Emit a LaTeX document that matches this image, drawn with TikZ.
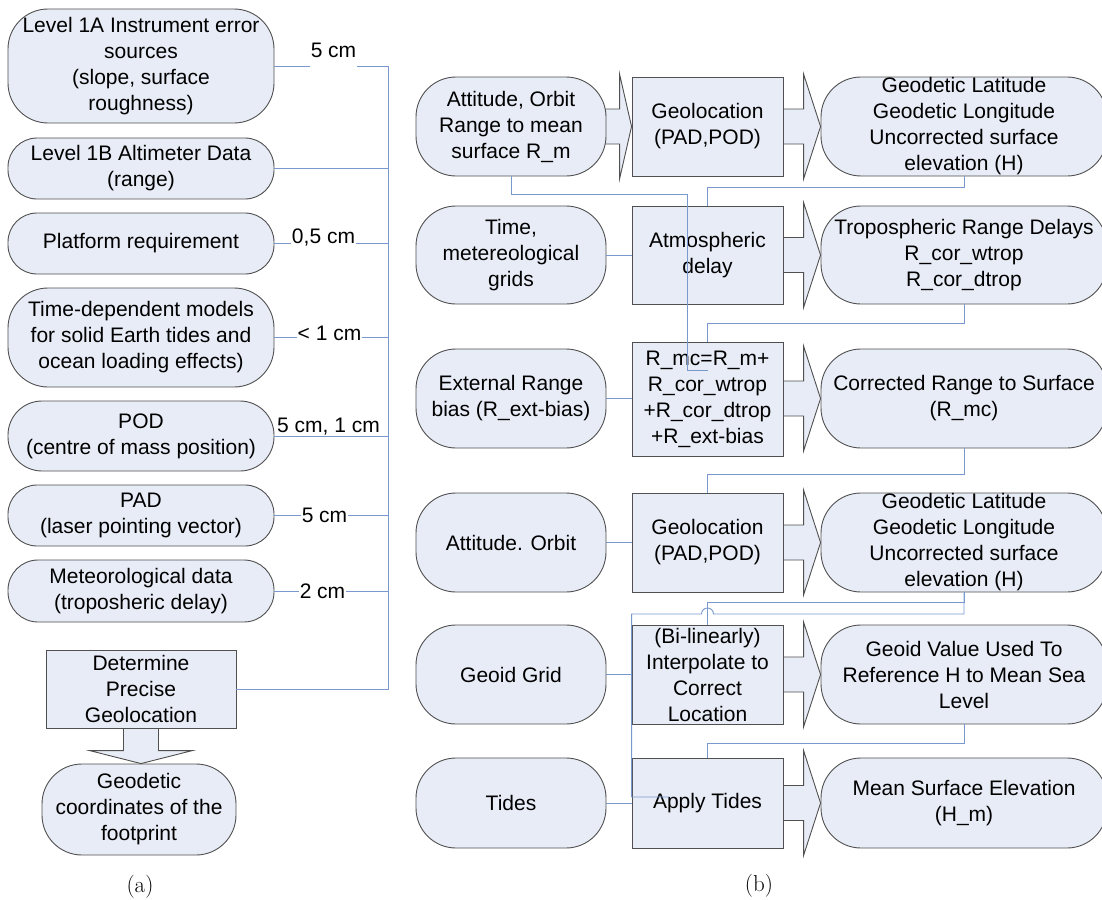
\documentclass[tikz,border=0pt]{standalone}
\usepackage{fontspec}
\newfontfamily\boxfont{Liberation Sans}
\usetikzlibrary{calc,backgrounds}

\definecolor{boxc}{RGB}{232,236,246}
\definecolor{bordc}{RGB}{80,80,80}
\definecolor{connc}{RGB}{120,152,206}

\tikzset{
  txt/.style={font={\boxfont\fontsize{21}{26}\selectfont}},
  rbox/.style={txt, draw=bordc, fill=boxc, line width=0.9pt, rounded corners=#1,
    inner sep=0pt, align=center},
  rbox/.default=40pt,
  sbox/.style={txt, draw=bordc, fill=boxc, line width=0.9pt, inner sep=0pt, align=center},
  conn/.style={draw=connc, line width=0.9pt},
  barrow/.style={draw=bordc, fill=boxc, line width=0.9pt, line join=miter},
  lab/.style={txt, fill=white, inner xsep=0.5pt, inner ysep=1pt, anchor=base},
  capt/.style={font={\fontsize{23}{27}\selectfont}},
}

% horizontal block arrow from #1 to #2, head length #3
\newcommand\blockarrow[3]{%
  \draw[barrow] let \p1=(#1.east), \p2=(#2.west) in
    (\x1-12pt,\y2+17.5pt) -- (\x2-#3,\y2+17.5pt) -- (\x2-#3,\y2+52.5pt) -- (\x2,\y2)
    -- (\x2-#3,\y2-52.5pt) -- (\x2-#3,\y2-17.5pt) -- (\x1-12pt,\y2-17.5pt);}

\begin{document}
\begin{tikzpicture}[x=1pt,y=-1pt]
\useasboundingbox (0,0) rectangle (1102,899);

% ---------------- (a) error budget ----------------
\node[rbox, minimum width=266pt, minimum height=114pt] (b1) at (141,66)
  {Level 1A Instrument error\\sources\\(slope, surface\\roughness)};
\node[rbox=29pt, minimum width=266pt, minimum height=61pt] (b2) at (141,168.5)
  {Level 1B Altimeter Data\\(range)};
\node[rbox=29pt, minimum width=266pt, minimum height=61pt] (b3) at (141,243.5)
  {Platform requirement};
\node[rbox, minimum width=266pt, minimum height=99pt] (b4) at (141,337.5)
  {Time-dependent models\\for solid Earth tides and\\ocean loading effects)};
\node[rbox=34pt, minimum width=266pt, minimum height=70pt] (b5) at (141,436)
  {POD\\(centre of mass position)};
\node[rbox=29pt, minimum width=266pt, minimum height=61pt] (b6) at (141,515.5)
  {PAD\\(laser pointing vector)};
\node[rbox=30pt, minimum width=266pt, minimum height=62pt] (b7) at (141,591)
  {Meteorological data\\(troposheric delay)};
\node[sbox, minimum width=190pt, minimum height=78pt] (det) at (141,689)
  {Determine\\Precise\\Geolocation};
\node[rbox, minimum width=194pt, minimum height=91pt] (fin) at (139,809.5)
  {Geodetic\\coordinates of the\\footprint};

\begin{pgfonlayer}{background}
  \draw[barrow] let \p1=(det.south), \p2=(fin.north) in
    (\x1-17.5pt,\y1+2pt) -- (\x1-17.5pt,\y2+13pt) -- (\x1-51.5pt,\y2+13pt) -- (\x1,\y2)
    -- (\x1+51.5pt,\y2+13pt) -- (\x1+17.5pt,\y2+13pt) -- (\x1+17.5pt,\y1+2pt);
\end{pgfonlayer}

\coordinate (bus) at (388,0);
\draw[conn] (b1.east) -- (b1.east -| bus) -- (det.east -| bus) -- (det.east);
\foreach \b in {b2,b3,b4,b5,b6,b7}
  \draw[conn] (\b.east) -- (\b.east -| bus);

\node[lab, text depth=10pt] (l1) at (333.5,57) {5 cm};
\node[lab] (l3) at (323.5,243) {0,5 cm};
\node[lab] (l4) at (329.5,340) {< 1 cm};
\node[lab] (l5) at (328.5,432) {5 cm, 1 cm};
\node[lab] (l6) at (324.5,522) {5 cm};
\node[lab] (l7) at (322.5,598) {2 cm};

\node[capt] (capa) at (140,887) {(a)};

% ---------------- (b) processing chain ----------------
% row 1
\node[rbox, minimum width=190pt, minimum height=99pt] (a1) at (511,126.5)
  {Attitude, Orbit\\Range to mean\\surface R\_m};
\node[sbox, minimum width=151pt, minimum height=99pt] (g1) at (707.5,126.5)
  {Geolocation\\(PAD,POD)};
\node[rbox, minimum width=286pt, minimum height=99pt] (o1) at (964,126.5)
  {Geodetic Latitude\\Geodetic Longitude\\Uncorrected surface\\elevation (H)};
% row 2
\node[rbox, minimum width=190pt, minimum height=98pt] (a2) at (511,255)
  {Time,\\metereological\\grids};
\node[sbox, minimum width=151pt, minimum height=98pt] (g2) at (707.5,255)
  {Atmospheric\\delay};
\node[rbox, minimum width=286pt, minimum height=98pt] (o2) at (964,255)
  {Tropospheric Range Delays\\R\_cor\_wtrop\\R\_cor\_dtrop};
% row 3
\node[rbox, minimum width=190pt, minimum height=99pt] (a3) at (511,398.5)
  {External Range\\bias (R\_ext-bias)};
\node[sbox, minimum width=151pt, minimum height=114pt] (g3) at (707.5,399)
  {R\_mc=R\_m+\\R\_cor\_wtrop\\+R\_cor\_dtrop\\+R\_ext-bias};
\node[rbox, minimum width=286pt, minimum height=99pt] (o3) at (964,398.5)
  {Corrected Range to Surface\\(R\_mc)};
% row 4
\node[rbox, minimum width=190pt, minimum height=99pt] (a4) at (511,542.5)
  {Attitude. Orbit};
\node[sbox, minimum width=151pt, minimum height=99pt] (g4) at (707.5,542.5)
  {Geolocation\\(PAD,POD)};
\node[rbox, minimum width=286pt, minimum height=99pt] (o4) at (964,542.5)
  {Geodetic Latitude\\Geodetic Longitude\\Uncorrected surface\\elevation (H)};
% row 5
\node[rbox, minimum width=190pt, minimum height=99pt] (a5) at (511,674.5)
  {Geoid Grid};
\node[sbox, minimum width=151pt, minimum height=99pt] (g5) at (707.5,674.5)
  {(Bi-linearly)\\Interpolate to\\Correct\\Location};
\node[rbox, minimum width=286pt, minimum height=99pt] (o5) at (964,674.5)
  {Geoid Value Used To\\Reference H to Mean Sea\\Level};
% row 6
\node[rbox, minimum width=190pt, minimum height=90pt] (a6) at (511,803)
  {Tides};
\node[sbox, minimum width=151pt, minimum height=90pt] (g6) at (707.5,803)
  {Apply Tides};
\node[rbox, minimum width=286pt, minimum height=90pt] (o6) at (964,803)
  {Mean Surface Elevation\\(H\_m)};

\begin{pgfonlayer}{background}
  \blockarrow{a1}{g1}{12pt}
  \blockarrow{g1}{o1}{17pt}
  \blockarrow{g2}{o2}{17pt}
  \blockarrow{g3}{o3}{17pt}
  \blockarrow{g4}{o4}{17pt}
  \blockarrow{g5}{o5}{17pt}
  \blockarrow{g6}{o6}{17pt}
\end{pgfonlayer}

% inputs into the processing blocks
\draw[conn] (a2.east) -- (g2.west);
\draw[conn] (a3.east) -- (a3.east -| g3.west);
\draw[conn] (a4.east) -- (g4.west);
\draw[conn] (a5.east) -- (g5.west);
\draw[conn] (a6.east) -- (g6.west);

% R_m carried down to the range correction
\coordinate (k1) at (687,194);
\coordinate (k2) at (707.5,370);
\draw[conn] (a1.south) |- (k1) |- (k2);

% outputs feeding the next stage
\draw[conn] (o1.south) -- ++(0,11) -| (g2.north);
\draw[conn] (o2.south) -- ++(0,19) -| (g3.north);
\draw[conn] (o3.south) -- ++(0,26) -| (g4.north);
\draw[conn] (o4.south) -- ++(0,10) -| (g5.north);
\draw[conn] (o5.south) -- ++(0,19) -| (g6.north);

% elevation H carried to the tide correction, hopping over one line
\coordinate (hop) at (707.5,614);
\coordinate (k3) at (669,797);
\draw[conn] (o4.south) |- ([xshift=6pt]hop)
  arc[start angle=0, end angle=180, radius=6pt] -- (hop -| g5.west) |- (k3);

\node[capt] (capb) at (759,886) {(b)};
\end{tikzpicture}
\end{document}
